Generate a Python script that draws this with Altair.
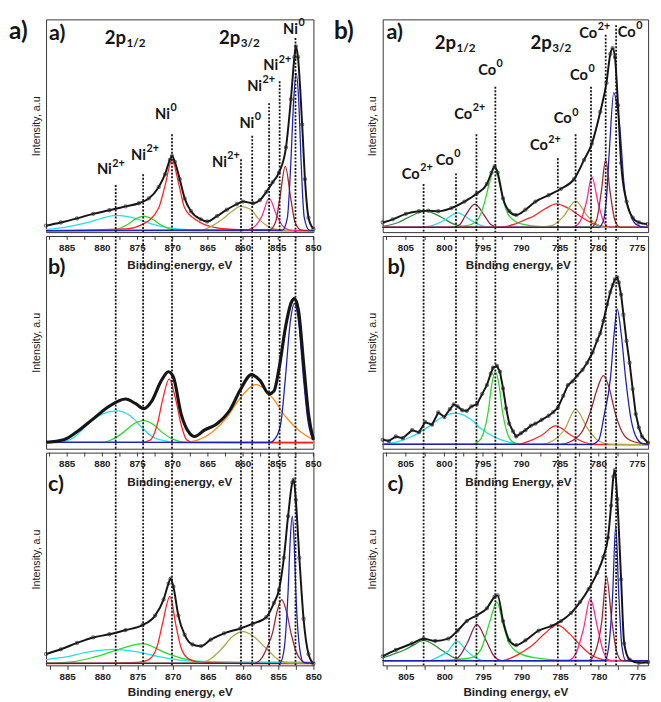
import altair as alt
import pandas as pd

# ---------------- axes / ticks ----------------
NI_DOMAIN = [888, 850]
CO_DOMAIN = [808, 773.6]
NI_TICKS = [887.5, 885, 882.5, 880, 877.5, 875, 872.5, 870, 867.5, 865, 862.5, 860, 857.5, 855, 852.5, 850]
NI_LABELS = [885, 880, 875, 870, 865, 860, 855, 850]
CO_TICKS = [807.5, 805, 802.5, 800, 797.5, 795, 792.5, 790, 787.5, 785, 782.5, 780, 777.5, 775]
CO_LABELS = [805, 800, 795, 790, 785, 780, 775]

# ---------------- dotted guide lines ----------------
NI_LINES_X = [878.1, 874.2, 870.1, 860.3, 858.7, 856.3, 854.8, 852.55]
NI_LINES_TOP = [49, 60, 101.7, 75.7, 100, 134, 156.7, 201.7]
CO_LINES_X = [802.7, 798.5, 795.85, 793.4, 785.3, 783.0, 781.0, 779.1, 777.75]
CO_LINES_TOP = [50, 61, 101.7, 151, 76.7, 101.7, 151, 205, 215]

# ---------------- peak labels (top panels) ----------------
NI_LBL_X = [878.65, 873.8, 870.4, 862.3, 858.4, 857.3, 855.0, 852.2]
NI_LBL_Y = [65, 80, 123, 73, 113, 151.7, 173, 211]
NI_LBL_BASE = ["Ni", "Ni", "Ni", "Ni", "Ni", "Ni", "Ni", "Ni"]
NI_LBL_SUP = ["2+", "2+", "0", "2+", "0", "2+", "2+", "0"]
CO_LBL_X = [803.2, 798.8, 796.4, 793.3, 786.6, 783.5, 781.4, 780.2, 775.2]
CO_LBL_Y = [60, 75, 123, 168, 90, 118, 163, 206.7, 208]
CO_LBL_BASE = ["Co", "Co", "Co", "Co", "Co", "Co", "Co", "Co", "Co"]
CO_LBL_SUP = ["2+", "0", "2+", "0", "2+", "0", "0", "2+", "0"]
NI_ORB_X = [876.65, 860.4]
NI_ORB_Y = [201.7, 201.7]
CO_ORB_X = [798.5, 786.1]
CO_ORB_Y = [196.7, 196.7]
ORB_BASE = ["2p", "2p"]
ORB_SUB = ["1/2", "3/2"]

# ---------------- Ni 2p, panel a ----------------
ni_a_black_x = [888, 885.9, 883.6, 881.3, 879.0, 876.7, 874.8, 873.4, 872.0, 871.1, 870.4, 870.1, 869.7, 869.0,
                868.3, 867.4, 866.0, 865.1, 863.7, 862.3, 860.9, 860.0, 858.6, 857.6, 856.7, 855.8, 854.9, 853.9,
                853.2, 852.7, 852.5, 852.2, 851.6, 851.2, 850.7, 850.0]
ni_a_black_y = [6.7, 10, 14.3, 19, 22.7, 26.7, 30, 35, 46.7, 60, 75, 79, 73, 55, 35, 21.7, 13.3, 11, 16.7, 23.3,
                29, 31.7, 30, 33.3, 41.7, 51.7, 61.7, 88, 138, 181.7, 193, 181.7, 111.7, 55, 15, 3.3]
ni_a_comps = {
    "cyan": ([888, 885, 882, 880, 878, 876, 874, 872, 870, 867, 862, 850],
             [2.5, 5.5, 10, 14.5, 17.3, 15.5, 11, 6.5, 4, 2.5, 1.8, 1.5]),
    "green": ([888, 879, 877.5, 876.3, 875.2, 874.1, 873, 871.9, 870.7, 869.3, 867, 850],
              [1.5, 1.8, 4, 8.5, 14, 16.7, 14, 8.5, 4, 2, 1.5, 1.5]),
    "red": ([888, 876.7, 874.3, 872.0, 871.1, 870.1, 869.2, 868.3, 866.5, 864.1, 860.4, 850],
            [1.5, 3.3, 8, 25, 48, 75, 52, 25, 11.7, 5, 2.5, 1.5]),
    "olive": ([888, 866, 864.5, 863, 861.5, 860.4, 859, 857.8, 856.5, 855, 853, 850],
              [1.5, 2, 6, 13, 22, 26.7, 24, 14, 6, 2.5, 1.5, 1.5]),
    "magenta": ([888, 860, 858.5, 857.3, 856.3, 855.2, 854.2, 853, 850],
                [1.5, 1.5, 5, 17, 35, 17, 5, 1.5, 1.5]),
    "brown": ([888, 856.3, 855.4, 854.8, 854.0, 853.2, 852.6, 851.7, 850],
              [1.5, 2, 10, 34, 68.3, 34, 10, 2, 1.5]),
    "blue": ([888, 854.4, 853.7, 853.4, 853.15, 852.8, 852.45, 852.1, 851.8, 851.55, 851.3, 850.6, 850],
             [1.5, 2, 15, 45, 82, 138, 165, 138, 82, 40, 15, 2, 1.5]),
}

# ---------------- Ni 2p, panel b ----------------
ni_b_black_x = [888, 885.5, 883.6, 881.3, 879.0, 876.7, 875.3, 874.1, 873.0, 871.6, 870.6, 869.9, 868.8, 867.6,
                866.9, 865.5, 863.7, 861.8, 860.4, 858.8, 857.6, 856.3, 855.6, 854.9, 853.9, 853.2, 852.7, 852.1,
                851.4, 850.7, 850.0]
ni_b_black_y = [6.7, 9.3, 17.7, 31, 44.3, 51.7, 47, 41.7, 49.3, 71, 80, 74.3, 36, 16, 12.7, 19.3, 26, 41, 61, 77,
                71, 57, 60, 82.7, 129, 151, 156, 142.7, 89, 36, 9.3]
ni_b_comps = {
    "cyan": ([888, 886, 884, 882, 880, 878, 876, 874.5, 873, 871, 869, 850],
             [5.5, 6.5, 12, 26, 36, 39.3, 34, 23, 13, 8, 6, 5.5]),
    "green": ([888, 880, 878.5, 877, 875.5, 874.1, 872.7, 871.5, 870, 868, 850],
              [6.5, 6.5, 10, 17, 26, 29.3, 25, 17, 10, 6.5, 6.5]),
    "red": ([888, 874.5, 873.2, 872.2, 871.4, 870.5, 869.6, 868.8, 868, 867, 850],
            [6.5, 6.5, 9, 25, 52, 72.7, 52, 25, 9, 6.5, 6.5]),
    "orange": ([888, 868.3, 866.5, 864.1, 862.3, 860.4, 858.2, 855.8, 853.9, 852.1, 850],
               [6.5, 6.5, 9, 19, 32.7, 52.7, 66.7, 52.7, 32.7, 19.3, 9.3]),
    "blue": ([888, 856.2, 855.3, 854.6, 854.0, 853.3, 852.7, 852.1, 851.4, 850.8, 850.2, 850],
             [6.5, 6.5, 12, 28, 72, 131, 151, 131, 72, 30, 12, 9]),
}

# ---------------- Ni 2p, panel c ----------------
ni_c_black_x = [888, 885.9, 883.6, 881.3, 879.0, 876.7, 874.3, 872.5, 871.3, 870.6, 870.3, 869.9, 869.2, 868.3,
                867.2, 866.0, 864.6, 862.7, 860.4, 858.6, 856.7, 855.6, 854.9, 854.2, 853.6, 853.0, 852.8, 852.5,
                852.0, 851.4, 850.7, 850.0]
ni_c_black_y = [11.7, 16.7, 23.3, 29, 32.3, 36.7, 41.7, 51.7, 68.3, 85, 90, 81.7, 51.7, 31.7, 21.7, 20, 26.7,
                33.3, 38.3, 43.3, 50, 65, 78.3, 111.7, 155, 190, 193, 171.7, 111.7, 48.3, 11.7, 1.7]
ni_c_comps = {
    "cyan": ([888, 885, 882, 878.3, 875, 872, 869, 865, 860, 850],
             [6, 9, 14, 16.7, 14, 9, 5.5, 3.8, 3.3, 3.3]),
    "green": ([888, 884, 881.3, 877.6, 874.3, 871.1, 868.3, 865, 860, 850],
              [2, 4, 8.3, 16.7, 22.7, 13.3, 6.7, 3.3, 2, 2]),
    "red": ([888, 880, 875, 873.4, 872.2, 871.4, 870.4, 869.5, 868.8, 867.8, 866, 862, 850],
            [1.7, 2, 3, 6, 20, 45, 71.7, 40, 18, 7, 3, 2, 1.7]),
    "olive": ([888, 866.5, 865, 863, 861.5, 860, 858.5, 856.7, 855, 853.5, 850],
              [2.3, 2.5, 5, 17.5, 30, 35, 30, 17.5, 6, 2.5, 2.3]),
    "brown": ([888, 858.5, 857.3, 856.5, 855.8, 855.2, 854.5, 853.8, 853.2, 852.5, 851.7, 851, 850],
              [2, 2, 8, 20, 34, 55, 68.3, 55, 34, 15, 5, 2, 2]),
    "blue": ([888, 854.8, 854.2, 853.6, 853.3, 853.0, 852.75, 852.5, 852.0, 851.4, 850],
             [2, 2, 15, 77, 130, 155, 130, 77, 20, 3, 2]),
}

# ---------------- Co 2p, panel a ----------------
co_a_black_x = [808, 806.7, 805, 803.3, 802.1, 800.8, 799.1, 797.4, 795.8, 794.5, 793.9, 793.5, 793.1, 792.4,
                791.6, 790.7, 789.5, 788.2, 786.5, 784.9, 783.2, 781.9, 780.9, 779.8, 779.0, 778.5, 778.2, 777.9,
                777.5, 777.1, 776.4, 775.6, 774.8, 773.7]
co_a_black_y = [10, 13.3, 19, 21.7, 22.3, 21.7, 25, 31.7, 40, 50, 61.7, 68.3, 61.7, 35, 21.7, 17.7, 23.3, 31.7,
                38.3, 45, 55, 75, 91.7, 125, 155, 185, 191, 181.7, 131.7, 71.7, 31.7, 15, 10, 8.3]
co_a_comps = {
    "dkgreen": ([808, 806, 804.5, 802.5, 800.5, 799, 797.5, 795, 773.6],
                [6, 10, 16, 21.7, 16, 9, 5.5, 5, 5]),
    "cyan": ([808, 803, 801.5, 800, 798.3, 796.6, 795.3, 794, 773.6],
             [5, 5, 7, 12.5, 20, 12.5, 7, 5, 5]),
    "maroon": ([808, 799, 798, 797.3, 796.05, 794.8, 794, 793, 773.6],
               [5, 5, 8, 17, 29, 17, 8, 5, 5]),
    "green": ([808, 800, 797.1, 795.8, 794.9, 794.2, 793.5, 792.8, 792.2, 791.6, 789.9, 787.4, 780, 773.6],
              [5, 5, 6.7, 11.7, 28, 50, 66.7, 48, 28, 16.7, 8.3, 5.7, 5, 5]),
    "red": ([808, 793, 791, 789.5, 788.6, 787, 785.5, 784, 782.3, 780.5, 779, 777, 773.6],
            [5, 5, 8, 13, 16, 24, 29.3, 25, 16, 8, 5.5, 5, 5]),
    "olive": ([808, 788, 786, 784.5, 783, 781.5, 780, 779, 773.6],
              [5, 5, 7, 17, 32.3, 17, 7, 5, 5]),
    "magenta": ([808, 783.5, 782.5, 781.6, 780.9, 780.1, 779.3, 778.5, 773.6],
                [5, 5, 10, 31, 57.7, 31, 10, 5, 5]),
    "brown": ([808, 781, 780.3, 779.7, 779.1, 778.5, 777.9, 777.2, 773.6],
              [5, 5, 12, 40, 75, 40, 12, 5, 5]),
    "blue": ([808, 780, 779.4, 779.0, 778.6, 778.05, 777.6, 777.3, 776.7, 776, 775.2, 774, 773.6],
             [5, 5, 11.7, 35, 88, 145, 130, 111.7, 48, 21.7, 8.3, 5, 5]),
}

# ---------------- Co 2p, panel b ----------------
co_b_black_x = [808, 807.2, 806.3, 805.4, 804.2, 803.3, 802.5, 801.6, 800.8, 800.0, 799.3, 798.8, 798.3, 797.7,
                797.1, 796.5, 795.8, 795.1, 794.5, 794.0, 793.7, 793.2, 792.8, 792.4, 792.0, 791.6, 791.1, 790.7,
                790.1, 789.5, 788.8, 788.2, 787.4, 786.5, 785.9, 785.3, 784.6, 784.0, 783.4, 782.8, 782.1, 781.5,
                780.8, 780.2, 779.8, 779.4, 778.9, 778.5, 778.2, 777.9, 777.6, 777.4, 777.1, 776.8, 776.4, 776.0,
                775.6, 775.2, 774.8, 774.4, 773.6]
co_b_black_y = [9.3, 8, 12.7, 11, 19.3, 17, 27.7, 25, 37.7, 33, 41, 46, 44, 40, 39.3, 44, 46, 57, 66, 78, 84.3,
                86, 80, 62.7, 42, 26, 18, 12.7, 16, 19.3, 24, 26, 30, 34.3, 38, 42.7, 55, 66, 70, 76, 82, 89.3,
                100, 112.7, 120, 132.7, 150, 162.7, 170, 176, 178, 172.7, 160, 139.3, 112, 89.3, 62, 36, 22,
                12.7, 6]
co_b_comps = {
    "cyan": ([808, 806, 804.2, 802.1, 800.5, 798.5, 796.5, 795.3, 793.2, 791.5, 789, 773.6],
             [5, 7.5, 12.7, 22.7, 32, 37, 30, 21, 11, 6.5, 4.5, 4.3]),
    "green": ([808, 796.5, 795.5, 795, 794.3, 793.9, 793.4, 792.9, 792.5, 791.8, 791.3, 790.3, 773.6],
              [4.5, 4.5, 8, 15, 40, 65, 80, 65, 40, 15, 8, 4.5, 4.3]),
    "red": ([808, 790.5, 789, 787.4, 785.6, 783.6, 782, 780.5, 773.6],
            [4.5, 4.5, 8, 14, 23.7, 14, 7, 4.5, 4.3]),
    "olive": ([808, 787.5, 786, 784.4, 783, 781.4, 780, 778.5, 773.6],
              [4.5, 4.5, 8, 20.5, 41, 20.5, 8, 4.5, 4.3]),
    "brown": ([808, 785, 783.5, 782, 781.1, 780.2, 779.4, 778.6, 777.9, 777, 776, 774.5, 773.6],
              [4.5, 4.5, 8, 20, 38, 62, 76, 62, 38, 18, 9, 5.5, 5]),
    "blue": ([808, 781, 780, 779.3, 778.5, 778, 777.6, 777.1, 776.5, 775.8, 775, 774.2, 773.6],
             [4.5, 4.5, 9, 35, 72, 120, 145, 120, 72, 30, 10, 5, 4.5]),
}

# ---------------- Co 2p, panel c ----------------
co_c_black_x = [808, 806.3, 804.2, 802.7, 801.2, 799.5, 798.3, 797.1, 795.8, 794.5, 793.5, 793.1, 792.4, 791.6,
                790.7, 789.5, 787.8, 786.1, 784.9, 783.6, 782.4, 781.3, 780.2, 779.4, 778.8, 778.4, 778.1, 777.9,
                777.6, 777.1, 776.7, 776.0, 774.8, 773.6]
co_c_black_y = [9.3, 16, 22.7, 27.7, 25.3, 27.7, 36, 46, 52, 59.3, 71, 72.7, 46, 26, 21, 26, 36, 41, 46, 54.3,
                66, 79.3, 96, 112.7, 132.7, 166, 196, 202.7, 172.7, 89.3, 22.7, 6, 2.7, 3.3]
co_c_comps = {
    "dkgreen": ([808, 806.5, 805.2, 804, 802.7, 801.3, 800.4, 799, 797.8, 796, 773.6],
                [8, 12, 16, 21, 26, 21, 16, 9, 5.5, 5, 5]),
    "cyan": ([808, 802, 801, 799.5, 798.4, 797.1, 796, 795, 773.6],
             [5, 5, 8, 15, 25.3, 15, 8, 5, 5]),
    "maroon": ([808, 799, 798, 797, 795.8, 794.5, 793.6, 792.6, 773.6],
               [5, 5, 10, 24, 42.7, 24, 10, 5, 5]),
    "green": ([808, 801, 796.6, 795.3, 794.1, 793.2, 792.4, 791.6, 790.3, 788.2, 785, 773.6],
              [5, 5, 7.7, 16, 46, 66, 42.7, 22.7, 12.7, 7.7, 5.5, 5]),
    "red": ([808, 792.5, 791, 789.5, 788.6, 787, 785.4, 783.8, 782.4, 781, 779.5, 778, 773.6],
            [5, 5, 9, 16, 21, 33, 42, 33, 21, 11, 6, 5, 5]),
    "magenta": ([808, 784, 783, 782, 781.1, 780.1, 779.3, 778.5, 773.6],
                [5, 5, 12, 37, 69.3, 37, 12, 5, 5]),
    "brown": ([808, 781.3, 780.4, 779.6, 779, 778.3, 777.7, 777, 773.6],
              [5, 5, 15, 46, 92.7, 46, 15, 5, 5]),
    "blue": ([808, 779.2, 778.7, 778.2, 777.8, 777.4, 777, 776.5, 773.6],
             [5, 5, 20, 73, 146, 73, 20, 5, 5]),
}

COLORS = {
    "cyan": "#1fe0ee", "green": "#27dc27", "red": "#ff2222", "olive": "#b0a845",
    "magenta": "#ff2a9a", "brown": "#a3252c", "blue": "#1e22b4", "orange": "#ff8a1c",
    "dkgreen": "#2e8b3a", "maroon": "#8c2150",
}

# ---------------- styling ----------------
W_L, W_R, H = 274, 272, 218
YMAX = 221
SANS = "Liberation Sans"
LBL = "Lato"
INK = "#151515"


def comps_df(comps):
    rows = []
    for name, (xs, ys) in comps.items():
        for x, y in zip(xs, ys):
            rows.append({"comp": name, "x": x, "y": y})
    return pd.DataFrame(rows)


def panel(domain, width, comps, bx, by, lines_x, lines_top, ticks, tick_labels,
          inner, prev_title=None, first=False, last=False, outer=None, outer_dx=-38,
          labels=None, orbitals=None, black_style="dots", bottom_title="Binding energy, eV",
          title_dx=0):
    xs = alt.Scale(domain=domain, nice=False, zero=False)
    ys = alt.Scale(domain=[0, YMAX], nice=False, zero=False)
    yaxis = alt.Axis(title="Intensity, a.u", labels=False, ticks=False, domain=False, grid=False,
                     titleFont=SANS, titleFontSize=11, titleFontWeight="normal", titlePadding=5,
                     titleColor="#222")
    if last:
        xaxis = alt.Axis(values=ticks, labelExpr="datum.value % 5 === 0 ? datum.label : ''",
                         title=bottom_title, grid=False, domain=False, tickSize=4, tickColor="#333",
                         labelFont=SANS, labelFontSize=10, labelFontWeight="bold", labelColor="#222",
                         labelFlush=False, labelOverlap=False, labelPadding=3,
                         titleFont=SANS, titleFontSize=12, titleFontWeight="bold", titleColor="#222",
                         titlePadding=5)
    else:
        xaxis = None

    def X(f):
        return alt.X(f, type="quantitative", scale=xs, axis=xaxis)

    def Y(f):
        return alt.Y(f, type="quantitative", scale=ys, axis=yaxis)

    layers = []
    cdf = comps_df(comps)
    layers.append(alt.Chart(cdf).mark_line(interpolate="monotone", strokeWidth=1.3).encode(
        x=X("x"), y=Y("y"),
        color=alt.Color("comp:N", scale=alt.Scale(domain=list(COLORS), range=list(COLORS.values())),
                        legend=None),
        detail="comp:N"))
    bdf = pd.DataFrame({"x": bx, "y": by})
    if black_style == "thick":
        layers.append(alt.Chart(bdf).mark_line(interpolate="monotone", color=INK, strokeWidth=3.2).encode(
            x=X("x"), y=Y("y")))
    else:
        interp = "linear" if black_style == "noisy" else "monotone"
        layers.append(alt.Chart(bdf).mark_line(interpolate=interp, color=INK, strokeWidth=2).encode(
            x=X("x"), y=Y("y")))
        layers.append(alt.Chart(bdf).mark_point(shape="circle", size=11, filled=False, color="#333",
                                                strokeWidth=1.1).encode(x=X("x"), y=Y("y")))
    # dotted guide lines
    ldf = pd.DataFrame({"x": lines_x, "top": lines_top})
    rule = alt.Chart(ldf).mark_rule(strokeDash=[2, 1.6], strokeWidth=1.8, color=INK)
    if first:
        layers.append(rule.encode(x=X("x"), y=Y("top"), y2=alt.datum(0)))
    else:
        layers.append(rule.encode(x=X("x"), y=alt.value(0), y2=alt.value(H)))
    # tick marks / labels / title belonging to the panel above
    if not first:
        tdf = pd.DataFrame({"t": ticks})
        layers.append(alt.Chart(tdf).mark_rule(color="#333", strokeWidth=1).encode(
            x=X("t"), y=alt.value(0), y2=alt.value(4)))
        ldf2 = pd.DataFrame({"t": tick_labels, "s": [str(v) for v in tick_labels]})
        layers.append(alt.Chart(ldf2).mark_text(font=SANS, fontSize=10, fontWeight="bold", color="#222",
                                                baseline="middle").encode(
            x=X("t"), y=alt.value(12), text="s:N"))
        layers.append(alt.Chart(pd.DataFrame({"s": [prev_title]})).mark_text(
            font=SANS, fontSize=12, fontWeight="bold", color="#222", baseline="middle").encode(
            x=alt.value(width / 2 + title_dx), y=alt.value(30), text="s:N"))
    # outer column label (transparent spacer in lower panels keeps alignment)
    layers.append(alt.Chart(pd.DataFrame({"s": [outer]})).mark_text(
        font=LBL, fontSize=25, fontWeight="bold", color=INK, align="left", baseline="top",
        opacity=1 if first else 0).encode(x=alt.value(outer_dx), y=alt.value(0), text="s:N"))
    # inner panel label
    layers.append(alt.Chart(pd.DataFrame({"s": [inner[0]]})).mark_text(
        font=LBL, fontSize=22, fontWeight="bold", color=INK, align="left", baseline="top").encode(
        x=alt.value(inner[1]), y=alt.value(inner[2]), text="s:N"))
    if labels is not None:
        lx, ly, lb, lsup = labels
        df = pd.DataFrame({"x": lx, "y": ly, "b": lb, "s": lsup})
        layers.append(alt.Chart(df).mark_text(font=LBL, fontSize=15, fontWeight="bold", color=INK,
                                              align="right", baseline="middle").encode(
            x=X("x"), y=Y("y"), text="b:N"))
        layers.append(alt.Chart(df).mark_text(font=LBL, fontSize=11, fontWeight="bold", color=INK,
                                              align="left", baseline="middle", dx=0.5, dy=-6).encode(
            x=X("x"), y=Y("y"), text="s:N"))
    if orbitals is not None:
        ox, oy = orbitals
        df = pd.DataFrame({"x": ox, "y": oy, "b": ORB_BASE, "s": ORB_SUB})
        layers.append(alt.Chart(df).mark_text(font=LBL, fontSize=19, fontWeight="bold", color=INK,
                                              align="right", baseline="middle").encode(
            x=X("x"), y=Y("y"), text="b:N"))
        layers.append(alt.Chart(df).mark_text(font=LBL, fontSize=12, fontWeight="bold", color=INK,
                                              align="left", baseline="middle", dx=0.5, dy=5).encode(
            x=X("x"), y=Y("y"), text="s:N"))
    return alt.layer(*layers).properties(width=width, height=H)


ni_a = panel(NI_DOMAIN, W_L, ni_a_comps, ni_a_black_x, ni_a_black_y, NI_LINES_X, NI_LINES_TOP,
             NI_TICKS, NI_LABELS, ("a)", 3, 4), first=True, outer="a)", outer_dx=-38,
             labels=(NI_LBL_X, NI_LBL_Y, NI_LBL_BASE, NI_LBL_SUP), orbitals=(NI_ORB_X, NI_ORB_Y))
ni_b = panel(NI_DOMAIN, W_L, ni_b_comps, ni_b_black_x, ni_b_black_y, NI_LINES_X, NI_LINES_TOP,
             NI_TICKS, NI_LABELS, ("b)", 2, 22), prev_title="Binding energy, eV", outer="a)",
             outer_dx=-38, black_style="thick")
ni_c = panel(NI_DOMAIN, W_L, ni_c_comps, ni_c_black_x, ni_c_black_y, NI_LINES_X, NI_LINES_TOP,
             NI_TICKS, NI_LABELS, ("c)", 2, 22), prev_title="Binding energy, eV", outer="a)",
             outer_dx=-38, last=True)

co_a = panel(CO_DOMAIN, W_R, co_a_comps, co_a_black_x, co_a_black_y, CO_LINES_X, CO_LINES_TOP,
             CO_TICKS, CO_LABELS, ("a)", 4, 3), first=True, outer="b)", outer_dx=-50,
             labels=(CO_LBL_X, CO_LBL_Y, CO_LBL_BASE, CO_LBL_SUP), orbitals=(CO_ORB_X, CO_ORB_Y))
co_b = panel(CO_DOMAIN, W_R, co_b_comps, co_b_black_x, co_b_black_y, CO_LINES_X, CO_LINES_TOP,
             CO_TICKS, CO_LABELS, ("b)", 5, 22), prev_title="Binding energy, eV", outer="b)",
             outer_dx=-50, black_style="noisy", title_dx=3)
co_c = panel(CO_DOMAIN, W_R, co_c_comps, co_c_black_x, co_c_black_y, CO_LINES_X, CO_LINES_TOP,
             CO_TICKS, CO_LABELS, ("c)", 5, 22), prev_title="Binding Energy, eV", outer="b)",
             outer_dx=-50, last=True, title_dx=3)

left = alt.vconcat(ni_a, ni_b, ni_c, spacing=0)
right = alt.vconcat(co_a, co_b, co_c, spacing=0)

chart = alt.hconcat(left, right, spacing=11).properties(padding=0).configure_view(
    stroke="#333", strokeWidth=1)

chart.save("out.html", embed_options={"renderer": "svg", "actions": False})
